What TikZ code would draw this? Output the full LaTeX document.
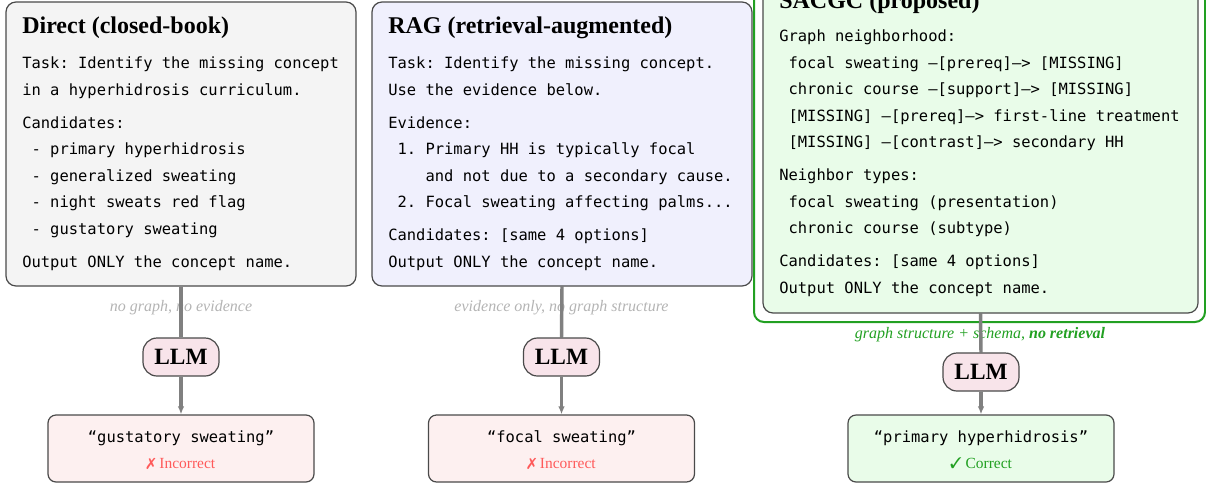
\documentclass[tikz,border=0pt]{standalone}
\usepackage{fontspec}
\setmainfont{Liberation Serif}
\setmonofont{DejaVu Sans Mono}
\usepackage{pifont}
\usetikzlibrary{arrows.meta,backgrounds,positioning}

\definecolor{directfill}{HTML}{F4F4F4}
\definecolor{ragfill}{HTML}{F0F0FD}
\definecolor{sacgcfill}{HTML}{E9FCE9}
\definecolor{llmfill}{HTML}{F8E4EA}
\definecolor{wrongfill}{HTML}{FDF0F0}
\definecolor{rightfill}{HTML}{E9FCE9}
\definecolor{edgegray}{HTML}{808080}
\definecolor{notegray}{HTML}{B4B4B4}
\definecolor{okgreen}{HTML}{22A022}
\definecolor{badred}{HTML}{FF5A5A}
\definecolor{boxline}{HTML}{4A4A4A}

\tikzset{
  promptbox/.style={draw=boxline, line width=0.9pt, rounded corners=7.5pt},
  boxtitle/.style={anchor=base west, inner sep=0pt, font=\fontsize{18}{20}\selectfont\bfseries},
  % anchored at the baseline of the last line
  prompttext/.style={anchor=base west, inner sep=0pt, align=left, font=\fontsize{11.6}{19.9}\selectfont\ttfamily},
  llm/.style={draw=boxline, line width=0.9pt, fill=llmfill, rounded corners=10.5pt, minimum width=57pt, minimum height=28.5pt, inner sep=0pt, font=\fontsize{17.5}{20}\selectfont\bfseries},
  answer/.style={draw=boxline, line width=0.9pt, rounded corners=6pt, minimum width=199.5pt, minimum height=50.25pt},
  answertext/.style={anchor=base, inner sep=0pt, font=\fontsize{11.6}{14}\selectfont\ttfamily},
  verdict/.style={anchor=base, inner sep=0pt, font=\fontsize{11.6}{14}\selectfont},
  note/.style={anchor=base, inner sep=0pt, font=\fontsize{12}{14}\selectfont\itshape},
  flow/.style={draw=edgegray, line width=2.6pt},
}

\begin{document}
\begin{tikzpicture}[x=0.75pt, y=-0.75pt]
  \useasboundingbox (0,0) rectangle (1206,483);

  % prompt boxes
  \node[promptbox, fill=directfill, minimum width=262.5pt, minimum height=213pt] (direct) at (181,144) {};
  \node[boxtitle] (directtitle) at (22,33) {Direct (closed-book)};
  \node[prompttext] (directtext) at (22,267.5) {Task: Identify the missing concept\\
    in a hyperhidrosis curriculum.\\[4.9pt]
    Candidates:\\
    \ - primary hyperhidrosis\\
    \ - generalized sweating\\
    \ - night sweats red flag\\
    \ - gustatory sweating\\[4.9pt]
    Output ONLY the concept name.};

  \node[promptbox, fill=ragfill, minimum width=285pt, minimum height=213pt] (rag) at (562,144) {};
  \node[boxtitle] (ragtitle) at (388,33) {RAG (retrieval-augmented)};
  \node[prompttext] (ragtext) at (388,267.5) {Task: Identify the missing concept.\\
    Use the evidence below.\\[4.9pt]
    Evidence:\\
    \ 1. Primary HH is typically focal\\
    \ \ \ \ and not due to a secondary cause.\\
    \ 2. Focal sweating affecting palms...\\[4.9pt]
    Candidates: [same 4 options]\\
    Output ONLY the concept name.};

  \begin{scope}[on background layer]
    \node[draw=okgreen, line width=1.5pt, rounded corners=7.5pt, minimum width=338.25pt, minimum height=265.5pt] (frame) at (979.5,145) {};
  \end{scope}
  \node[promptbox, fill=sacgcfill, minimum width=326.25pt, minimum height=252pt] (sacgc) at (980.5,145) {};
  \node[boxtitle] (sacgctitle) at (779,8) {SACGC (proposed)};
  \node[prompttext] (sacgctext) at (779,293.5) {Graph neighborhood:\\
    \ focal sweating –[prereq]–> [MISSING]\\
    \ chronic course –[support]–> [MISSING]\\
    \ [MISSING] –[prereq]–> first-line treatment\\
    \ [MISSING] –[contrast]–> secondary HH\\[4.9pt]
    Neighbor types:\\
    \ focal sweating (presentation)\\
    \ chronic course (subtype)\\[4.9pt]
    Candidates: [same 4 options]\\
    Output ONLY the concept name.};

  % models
  \node[llm] (llm1) at (181,357) {LLM};
  \node[llm] (llm2) at (561.5,357) {LLM};
  \node[llm] (llm3) at (981,372) {LLM};

  % answers
  \node[answer, fill=wrongfill] (ans1) at (181,448.5) {};
  \node[answertext] (ans1text) at (181,442) {“gustatory sweating”};
  \node[verdict, text=badred] (ans1verdict) at (181,468) {\ding{55} Incorrect};
  \node[answer, fill=wrongfill] (ans2) at (561.5,448.5) {};
  \node[answertext] (ans2text) at (561.5,442) {“focal sweating”};
  \node[verdict, text=badred] (ans2verdict) at (561.5,468) {\ding{55} Incorrect};
  \node[answer, fill=rightfill] (ans3) at (981,448.5) {};
  \node[answertext] (ans3text) at (981,442) {“primary hyperhidrosis”};
  \node[verdict, text=okgreen] (ans3verdict) at (981,468) {\ding{51} Correct};

  \begin{scope}[on background layer]
    % notes under the lines
    \node[note, text=notegray] (note1) at (181,311) {no graph, no evidence};
    \node[note, text=notegray] (note2) at (561.5,311) {evidence only, no graph structure};
    \node[note, text=okgreen] (note3) at (980,338) {graph structure + schema, \textbf{no retrieval}};
    % flow
    \draw[flow] (direct.south) -- (llm1.north);
    \draw[flow, -{Latex[length=6pt,width=5pt]}] (llm1.south) -- (ans1.north);
    \draw[flow] (rag.south) -- (llm2.north);
    \draw[flow, -{Latex[length=6pt,width=5pt]}] (llm2.south) -- (ans2.north);
    \draw[flow] (sacgc.south) -- (llm3.north);
    \draw[flow, -{Latex[length=6pt,width=5pt]}] (llm3.south) -- (ans3.north);
  \end{scope}
\end{tikzpicture}
\end{document}
